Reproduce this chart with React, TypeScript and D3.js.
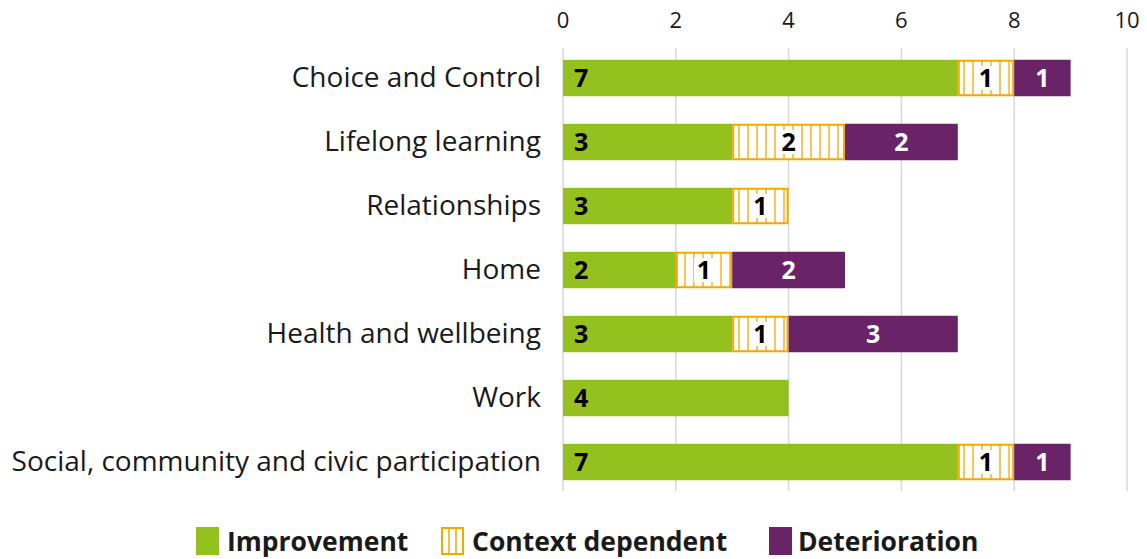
import React from "react";
import * as d3 from "d3";

const categories = [
  "Choice and Control",
  "Lifelong learning",
  "Relationships",
  "Home",
  "Health and wellbeing",
  "Work",
  "Social, community and civic participation",
];
const improvement = [7, 3, 3, 2, 3, 4, 7];
const contextDependent = [1, 2, 1, 1, 1, 0, 1];
const deterioration = [1, 2, 0, 2, 3, 0, 1];
const xTicks = [0, 2, 4, 6, 8, 10];
const seriesNames = ["Improvement", "Context dependent", "Deterioration"];

const W = 1147;
const H = 559;
const GREEN = "#95C11F";
const ORANGE = "#F5A800";
const PURPLE = "#6B2368";
const FONT = "'Open Sans', 'Noto Sans', sans-serif";

export default function App() {
  const x = d3.scaleLinear().domain([0, 10]).range([563, 1127]);
  const y = d3.scaleBand().domain(categories).range([46, 494]).paddingInner(0.43).paddingOuter(0.215);
  const rows = categories.map((c, i) => ({
    c,
    segs: [
      { k: 0, v0: 0, v1: improvement[i], v: improvement[i] },
      { k: 1, v0: improvement[i], v1: improvement[i] + contextDependent[i], v: contextDependent[i] },
      {
        k: 2,
        v0: improvement[i] + contextDependent[i],
        v1: improvement[i] + contextDependent[i] + deterioration[i],
        v: deterioration[i],
      },
    ],
  }));
  const bh = y.bandwidth();
  return (
    <svg width={W} height={H} style={{ position: "absolute", left: 0, top: 0, background: "#fff" }}>
      <defs>
        <pattern id="vstripe" patternUnits="userSpaceOnUse" width={9} height={10}>
          <rect width={9} height={10} fill="#fff" />
          <line x1={1} y1={0} x2={1} y2={10} stroke={ORANGE} strokeWidth={1.3} />
        </pattern>
      </defs>
      {xTicks.map((t) => (
        <g key={t}>
          <line x1={x(t)} x2={x(t)} y1={48} y2={491} stroke="#d9d9d9" strokeWidth={1.5} />
          <text x={x(t)} y={28} textAnchor="middle" fontFamily={FONT} fontSize={22} fill="#1a1a1a">
            {t}
          </text>
        </g>
      ))}
      {rows.map((r) => (
        <g key={r.c}>
          <text
            x={541}
            y={(y(r.c) as number) + bh / 2}
            dy="0.33em"
            textAnchor="end"
            fontFamily={FONT}
            fontSize={28}
            fill="#1a1a1a"
          >
            {r.c}
          </text>
          {r.segs
            .filter((s) => s.v > 0)
            .map((s) => {
              const x0 = x(s.v0);
              const w = x(s.v1) - x0;
              const yy = y(r.c) as number;
              const cy = yy + bh / 2;
              return (
                <g key={s.k}>
                  {s.k === 1 ? (
                    <rect
                      x={x0 + 1}
                      y={yy + 1}
                      width={w - 2}
                      height={bh - 2}
                      fill="url(#vstripe)"
                      stroke={ORANGE}
                      strokeWidth={2}
                    />
                  ) : (
                    <rect x={x0} y={yy} width={w} height={bh} fill={s.k === 0 ? GREEN : PURPLE} />
                  )}
                  {s.k === 1 && <rect x={x0 + w / 2 - 10} y={cy - 12} width={20} height={24} fill="#fff" />}
                  <text
                    x={s.k === 0 ? x0 + 11 : x0 + w / 2}
                    y={cy}
                    dy="0.36em"
                    textAnchor={s.k === 0 ? "start" : "middle"}
                    fontFamily={FONT}
                    fontWeight={700}
                    fontSize={25}
                    fill={s.k === 2 ? "#fff" : "#000"}
                  >
                    {s.v}
                  </text>
                </g>
              );
            })}
        </g>
      ))}
      {(() => {
        const items = [
          { x: 196 },
          { x: 441 },
          { x: 769 },
        ];
        return seriesNames.map((n, i) => (
          <g key={n} transform={`translate(${items[i].x},541)`}>
            {i === 1 ? (
              <g>
                <rect x={1} y={-13} width={21} height={26} fill="#fff" stroke={ORANGE} strokeWidth={2} />
                <line x1={8} x2={8} y1={-13} y2={13} stroke={ORANGE} strokeWidth={1.5} />
                <line x1={15} x2={15} y1={-13} y2={13} stroke={ORANGE} strokeWidth={1.5} />
              </g>
            ) : (
              <rect x={0} y={-14} width={23} height={28} fill={i === 0 ? GREEN : PURPLE} />
            )}
            <text x={i === 2 ? 29 : 31} y={0} dy="0.36em" fontFamily={FONT} fontWeight={700} fontSize={26.5} fill="#1a1a1a">
              {n}
            </text>
          </g>
        ));
      })()}
    </svg>
  );
}
